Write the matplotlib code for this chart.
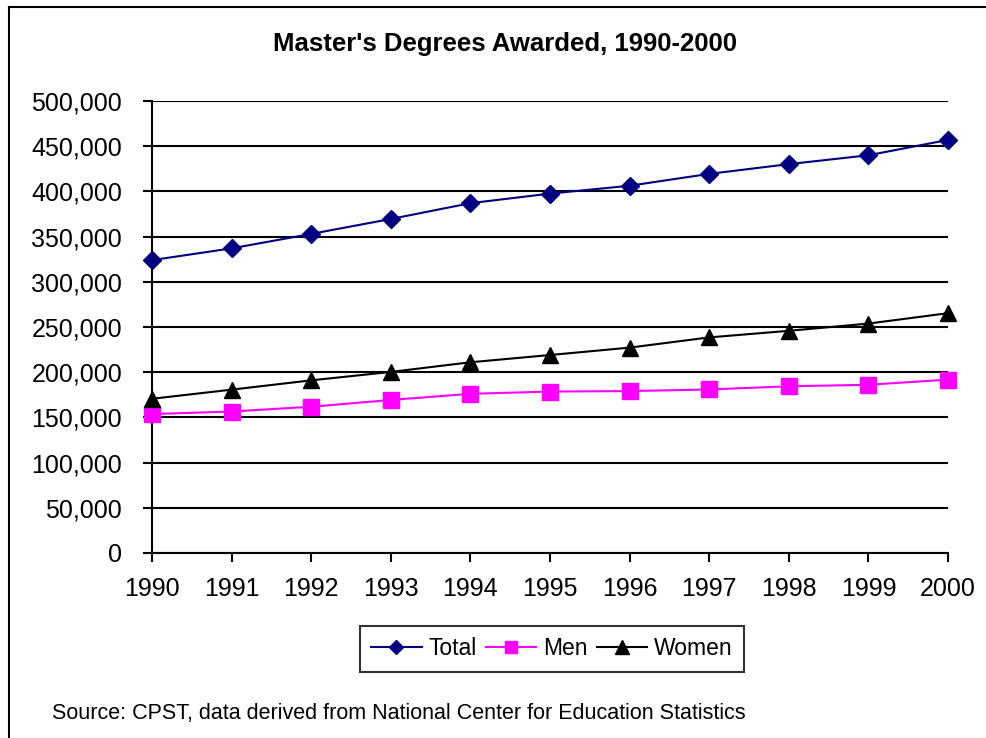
import matplotlib
matplotlib.use("Agg")
import matplotlib.pyplot as plt
from matplotlib.lines import Line2D
from matplotlib.ticker import FuncFormatter

plt.rcParams['font.family'] = ['Liberation Sans', 'DejaVu Sans']

years = [1990, 1991, 1992, 1993, 1994, 1995, 1996, 1997, 1998, 1999, 2000]
total = [324000, 337000, 353000, 369500, 387000, 397600, 406300, 419400, 430200, 440000, 457000]
men = [153700, 156500, 161800, 169300, 176100, 178600, 179100, 180900, 184400, 186100, 191800]
women = [170600, 180700, 191000, 200300, 211000, 219000, 227200, 238500, 245800, 253800, 265300]
yticks = list(range(0, 500001, 50000))

fig = plt.figure(figsize=(9.87, 7.38), dpi=100)
ax = fig.add_axes([0.154, 0.2507, 0.8065, 0.6124])

ax.plot(years, total, color='#000080', lw=1.5, marker='D', ms=9.5,
        label='Total', clip_on=False, zorder=3)
ax.plot(years, men, color='#FF00FF', lw=1.5, marker='s', ms=11.5,
        label='Men', clip_on=False, zorder=3)
ax.plot(years, women, color='black', lw=1.5, marker='^', ms=12,
        label='Women', clip_on=False, zorder=3)

ax.set_xlim(1990, 2000)
ax.set_ylim(0, 500000)
ax.set_xticks(years)
ax.set_yticks(yticks)
ax.yaxis.set_major_formatter(FuncFormatter(lambda v, p: f"{int(v):,}"))
ax.grid(axis='y', color='black', lw=1.5)
ax.set_axisbelow(True)
for s in ['top', 'right']:
    ax.spines[s].set_visible(False)
for s in ['left', 'bottom']:
    ax.spines[s].set_linewidth(1.5)
ax.tick_params(axis='both', length=6.5, width=1.5, labelsize=18, direction='out')
ax.tick_params(axis='y', pad=15)
ax.tick_params(axis='x', pad=11)

fig.text(0.5117, 0.9404, "Master's Degrees Awarded, 1990-2000",
         ha='center', va='center', fontsize=18.5, fontweight='bold')

leg = fig.legend(loc='center', bbox_to_anchor=(0.5593, 0.1206), ncol=3,
                 fontsize=16.5, frameon=True, fancybox=False, handlelength=2.2,
                 handletextpad=0.3, columnspacing=0.4, borderpad=0.5,
                 borderaxespad=0, markerscale=0.8)
leg.get_frame().set_edgecolor('black')
leg.get_frame().set_linewidth(1.5)

fig.text(0.0527, 1 - 713 / 738, "Source: CPST, data derived from National Center for Education Statistics",
         ha='left', va='center', fontsize=15.5)

# outer chart border (top and left edges visible)
fig.add_artist(Line2D([9 / 987, 1], [1 - 7 / 738, 1 - 7 / 738], transform=fig.transFigure,
                      color='black', lw=1.5))
fig.add_artist(Line2D([9 / 987, 9 / 987], [0, 1 - 7 / 738], transform=fig.transFigure,
                      color='black', lw=1.5))

fig.savefig("out.png", dpi=100)
